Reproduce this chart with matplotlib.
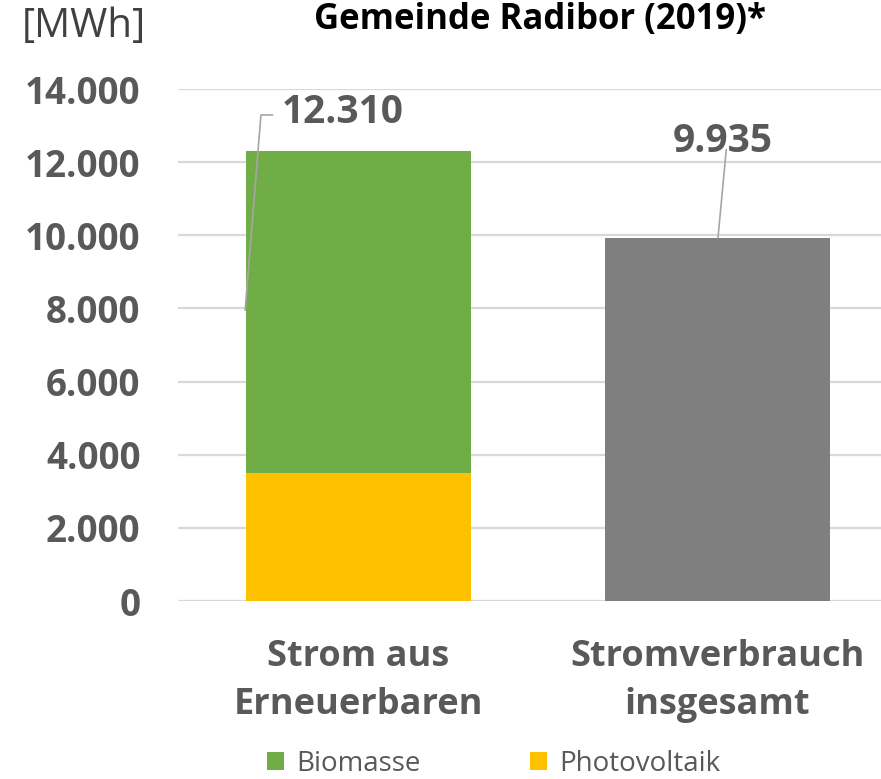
import matplotlib
matplotlib.use("Agg")
import matplotlib.pyplot as plt

categories = ["Strom aus\nErneuerbaren", "Stromverbrauch\ninsgesamt"]
photovoltaik = [3490, 0]
biomasse = [8820, 0]
gesamt = [0, 9935]
totals = [12310, 9935]
total_labels = ["12.310", "9.935"]
yticks = [0, 2000, 4000, 6000, 8000, 10000, 12000, 14000]
ytick_labels = ["0", "2.000", "4.000", "6.000", "8.000", "10.000", "12.000", "14.000"]

FONT = ["Open Sans", "DejaVu Sans"]
plt.rcParams['font.family'] = FONT

W, H = 881, 779
fig = plt.figure(figsize=(W / 100, H / 100), dpi=100)
ax = fig.add_axes([178 / W, 1 - 601 / H, (881 - 178) / W, (601 - 89) / H])

x = [0, 1]
bw = 0.627
ax.bar(x, photovoltaik, bw, color="#FFC000", zorder=3, label="Photovoltaik")
ax.bar(x, biomasse, bw, bottom=photovoltaik, color="#70AD47", zorder=3, label="Biomasse")
ax.bar(x, gesamt, bw, color="#7F7F7F", zorder=3)

ax.set_xlim(-0.503, 1.455)
ax.set_ylim(0, 14000)
ax.set_yticks(yticks)
ax.set_yticklabels(ytick_labels, fontsize=26.5, fontweight="bold", color="#595959")
ax.set_xticks(x)
ax.set_xticklabels(categories, fontsize=26, fontweight="bold", color="#595959", linespacing=1.45)
ax.tick_params(axis="y", length=0, pad=27)
ax.tick_params(axis="x", length=0, pad=27)
ax.grid(axis="y", color="#D9D9D9", lw=1.6, zorder=0)
for s in ax.spines.values():
    s.set_visible(False)

# data labels with leader lines
lc = "#A6A6A6"
ax.plot([-0.316, -0.272, -0.240], [7957, 13290, 13290], color=lc, lw=1.2, zorder=4)
ax.text(-0.215, 13350, total_labels[0], fontsize=28, fontweight="bold", color="#595959",
        ha="left", va="center", zorder=5)
ax.plot([1.024, 1.001], [12340, totals[1]], color=lc, lw=1.2, zorder=4)
ax.text(1.015, 12570, total_labels[1], fontsize=28, fontweight="bold", color="#595959",
        ha="center", va="center", zorder=5)

# title and unit
fig.text(540 / W, 1 - 29 / H, "Gemeinde Radibor (2019)*", fontsize=25, fontweight="bold",
         color="#000000", ha="center", va="baseline")
fig.text(22 / W, 1 - 37 / H, "[MWh]", fontsize=29, color="#404040", ha="left", va="baseline")

# legend
handles, labels = ax.get_legend_handles_labels()
order = [1, 0]
leg = fig.legend([handles[i] for i in order], [labels[i] for i in order],
                 loc="center", bbox_to_anchor=(494 / W, 1 - 764 / H), ncol=2, frameon=False,
                 fontsize=20, handlelength=0.6, handleheight=0.6, handletextpad=0.45,
                 columnspacing=3.95, labelcolor="#595959")

fig.savefig("out.png", dpi=100)
